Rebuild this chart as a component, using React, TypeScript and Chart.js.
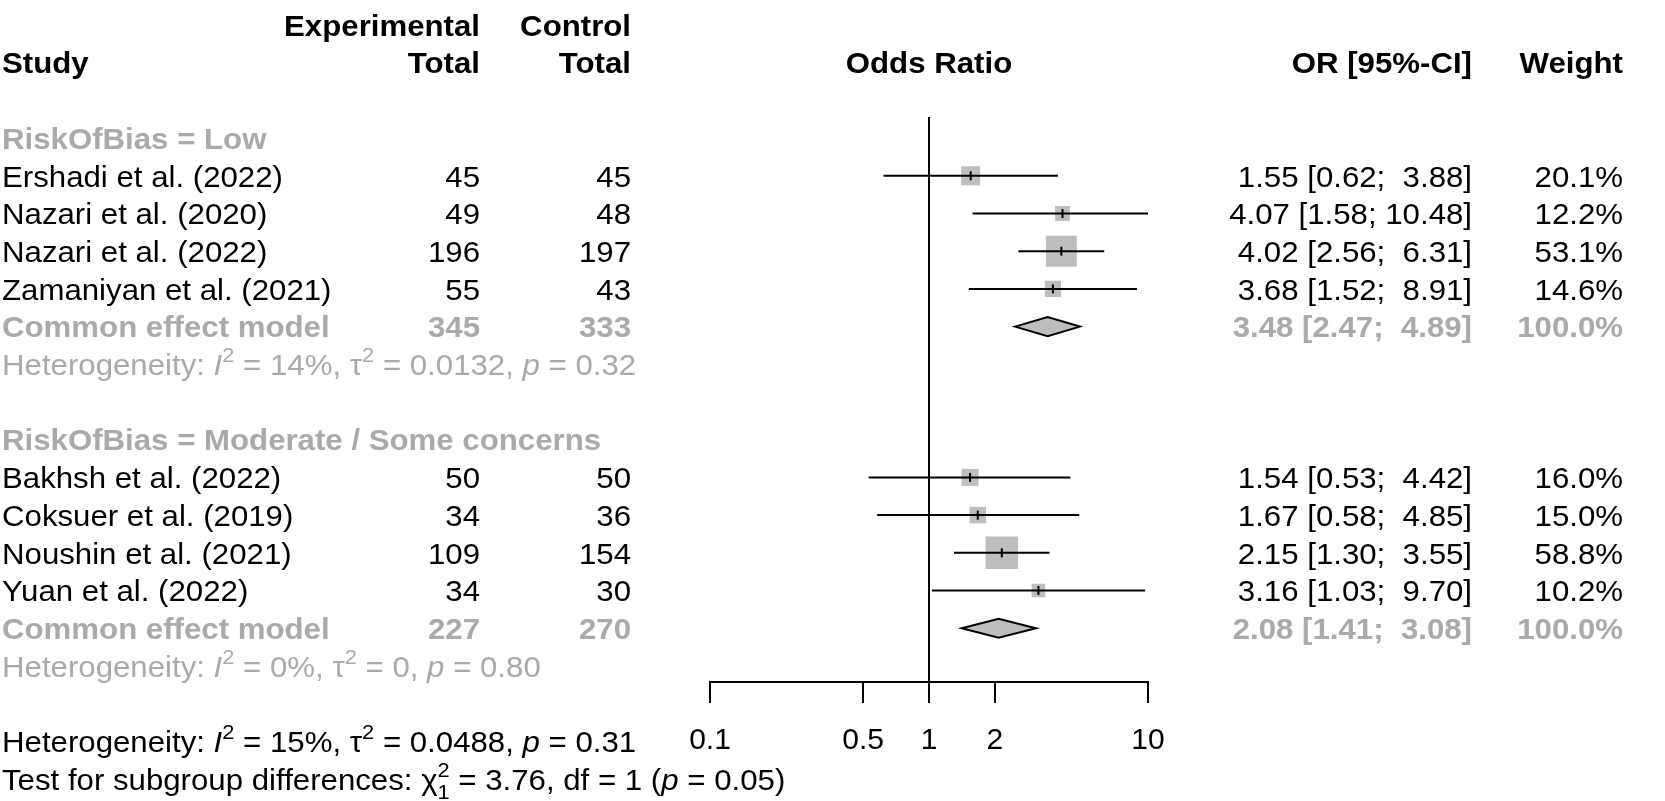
import React, { useEffect, useRef } from 'react';
import { Chart, registerables } from 'chart.js';

Chart.register(...registerables);

// ---------------- data ----------------
const STUDIES = [
  'Ershadi et al. (2022)',
  'Nazari et al. (2020)',
  'Nazari et al. (2022)',
  'Zamaniyan et al. (2021)',
  'Bakhsh et al. (2022)',
  'Coksuer et al. (2019)',
  'Noushin et al. (2021)',
  'Yuan et al. (2022)',
];
const STUDY_GROUP = [0, 0, 0, 0, 1, 1, 1, 1];
const EXP_TOTAL = [45, 49, 196, 55, 50, 34, 109, 34];
const CTRL_TOTAL = [45, 48, 197, 43, 50, 36, 154, 30];
const STUDY_OR = [1.55, 4.07, 4.02, 3.68, 1.54, 1.67, 2.15, 3.16];
const STUDY_LOWER = [0.62, 1.58, 2.56, 1.52, 0.53, 0.58, 1.3, 1.03];
const STUDY_UPPER = [3.88, 10.48, 6.31, 8.91, 4.42, 4.85, 3.55, 9.7];
const STUDY_WEIGHT = [20.1, 12.2, 53.1, 14.6, 16.0, 15.0, 58.8, 10.2];

const SUBGROUPS = ['RiskOfBias = Low', 'RiskOfBias = Moderate / Some concerns'];
const POOLED_LABEL = 'Common effect model';
const POOLED_EXP = [345, 227];
const POOLED_CTRL = [333, 270];
const POOLED_OR = [3.48, 2.08];
const POOLED_LOWER = [2.47, 1.41];
const POOLED_UPPER = [4.89, 3.08];
const POOLED_WEIGHT = [100.0, 100.0];

const HET_I2 = ['14%', '0%'];
const HET_TAU2 = ['0.0132', '0'];
const HET_P = ['0.32', '0.80'];
const OVERALL_HET = ['15%', '0.0488', '0.31']; // I2, tau2, p
const SUBGROUP_TEST = ['3.76', '1', '1', '0.05']; // chi2, chi df (subscript), df, p

const X_TICKS = [0.1, 0.5, 1, 2, 10];
const X_TICK_LABELS = ['0.1', '0.5', '1', '2', '10'];

const HEAD_STUDY = 'Study';
const HEAD_EXP = ['Experimental', 'Total'];
const HEAD_CTRL = ['Control', 'Total'];
const HEAD_PLOT = 'Odds Ratio';
const HEAD_OR = 'OR [95%-CI]';
const HEAD_WEIGHT = 'Weight';

// ---------------- row layout (row indices) ----------------
const GROUP_ROW: number[] = [];
const POOLED_ROW: number[] = [];
const HET_ROW: number[] = [];
const STUDY_ROW: number[] = [];
(() => {
  let r = 3;
  SUBGROUPS.forEach((_, g) => {
    GROUP_ROW[g] = r++;
    STUDIES.forEach((__, i) => {
      if (STUDY_GROUP[i] === g) STUDY_ROW[i] = r++;
    });
    POOLED_ROW[g] = r++;
    HET_ROW[g] = r++;
    r++;
  });
})();
const OVERALL_ROW = HET_ROW[HET_ROW.length - 1] + 2;
const TEST_ROW = OVERALL_ROW + 1;
const AXIS_ROW = HET_ROW[HET_ROW.length - 1] + 0.43;
const NULL_TOP_ROW = GROUP_ROW[0] - 0.56;

// ---------------- style ----------------
const W = 1665;
const H = 801;
const FAMILY = '"Liberation Sans", Arial, Helvetica, sans-serif';
const FS = 30;
const SX = 1.04;
const BASE_OFF = 0.358 * FS;
const GREY_TEXT = '#AAAAAA';
const GREY_FILL = '#BEBEBE';
const ROW_PX = 37.7;
const ROW0_PX = 25;
const Y_MIN = -ROW0_PX / ROW_PX;
const Y_MAX = Y_MIN + H / ROW_PX;
const PLOT_LEFT = 710;
const PLOT_RIGHT = 1148;
const STUDY_X = 2;
const EXP_X = 480;
const CTRL_X = 631;
const OR_X = 1472;
const WEIGHT_X = 1623;
const SQUARE_K = 4.25;
const DIAMOND_H = 9.5;

const fmt2 = (v: number) => v.toFixed(2);
const UPPER_W = Math.max(...STUDY_UPPER.map((v) => fmt2(v).length), ...POOLED_UPPER.map((v) => fmt2(v).length));
const LOWER_W = Math.max(...STUDY_LOWER.map((v) => fmt2(v).length), ...POOLED_LOWER.map((v) => fmt2(v).length));
const ciText = (o: number, l: number, u: number) =>
  `${fmt2(o)} [${fmt2(l).padStart(LOWER_W, ' ')}; ${fmt2(u).padStart(UPPER_W, ' ')}]`;

type Run = { t: string; it?: boolean; sup?: boolean; sub?: boolean; keep?: boolean };

function drawText(
  ctx: CanvasRenderingContext2D,
  s: string,
  x: number,
  y: number,
  align: CanvasTextAlign,
  bold: boolean,
  color: string
) {
  ctx.save();
  ctx.font = `${bold ? 'bold' : 'normal'} ${FS}px ${FAMILY}`;
  ctx.fillStyle = color;
  ctx.textAlign = align;
  ctx.textBaseline = 'alphabetic';
  ctx.translate(x, y + BASE_OFF);
  ctx.scale(SX, 1);
  ctx.fillText(s, 0, 0);
  ctx.restore();
}

function drawRich(ctx: CanvasRenderingContext2D, runs: Run[], x: number, y: number, color: string) {
  ctx.save();
  ctx.translate(x, y + BASE_OFF);
  ctx.scale(SX, 1);
  ctx.fillStyle = color;
  ctx.textAlign = 'left';
  ctx.textBaseline = 'alphabetic';
  let cx = 0;
  for (const r of runs) {
    const size = r.sup || r.sub ? FS * 0.7 : FS;
    ctx.font = `${r.it ? 'italic ' : ''}normal ${size}px ${FAMILY}`;
    const dy = r.sup ? -0.42 * FS : r.sub ? 0.3 * FS : 0;
    ctx.fillText(r.t, cx, dy);
    if (!r.keep) cx += ctx.measureText(r.t).width;
  }
  ctx.restore();
}

const hetRuns = (i2: string, tau2: string, p: string): Run[] => [
  { t: 'Heterogeneity: ' },
  { t: 'I', it: true },
  { t: '2', sup: true },
  { t: ` = ${i2}, ` },
  { t: 'τ' },
  { t: '2', sup: true },
  { t: ` = ${tau2}, ` },
  { t: 'p', it: true },
  { t: ` = ${p}` },
];

const textPlugin = {
  id: 'forestText',
  afterDraw(chart: any) {
    const ctx: CanvasRenderingContext2D = chart.ctx;
    const ys = chart.scales.y;
    const xs = chart.scales.x;
    const py = (r: number) => ys.getPixelForValue(r);

    drawText(ctx, HEAD_EXP[0], EXP_X, py(0), 'right', true, '#000');
    drawText(ctx, HEAD_CTRL[0], CTRL_X, py(0), 'right', true, '#000');
    drawText(ctx, HEAD_STUDY, STUDY_X, py(1), 'left', true, '#000');
    drawText(ctx, HEAD_EXP[1], EXP_X, py(1), 'right', true, '#000');
    drawText(ctx, HEAD_CTRL[1], CTRL_X, py(1), 'right', true, '#000');
    drawText(ctx, HEAD_PLOT, xs.getPixelForValue(1), py(1), 'center', true, '#000');
    drawText(ctx, HEAD_OR, OR_X, py(1), 'right', true, '#000');
    drawText(ctx, HEAD_WEIGHT, WEIGHT_X, py(1), 'right', true, '#000');

    SUBGROUPS.forEach((name, g) => {
      drawText(ctx, name, STUDY_X, py(GROUP_ROW[g]), 'left', true, GREY_TEXT);
      const pr = py(POOLED_ROW[g]);
      drawText(ctx, POOLED_LABEL, STUDY_X, pr, 'left', true, GREY_TEXT);
      drawText(ctx, String(POOLED_EXP[g]), EXP_X, pr, 'right', true, GREY_TEXT);
      drawText(ctx, String(POOLED_CTRL[g]), CTRL_X, pr, 'right', true, GREY_TEXT);
      drawText(ctx, ciText(POOLED_OR[g], POOLED_LOWER[g], POOLED_UPPER[g]), OR_X, pr, 'right', true, GREY_TEXT);
      drawText(ctx, `${POOLED_WEIGHT[g].toFixed(1)}%`, WEIGHT_X, pr, 'right', true, GREY_TEXT);
      drawRich(ctx, hetRuns(HET_I2[g], HET_TAU2[g], HET_P[g]), STUDY_X, py(HET_ROW[g]), GREY_TEXT);
    });

    STUDIES.forEach((name, i) => {
      const r = py(STUDY_ROW[i]);
      drawText(ctx, name, STUDY_X, r, 'left', false, '#000');
      drawText(ctx, String(EXP_TOTAL[i]), EXP_X, r, 'right', false, '#000');
      drawText(ctx, String(CTRL_TOTAL[i]), CTRL_X, r, 'right', false, '#000');
      drawText(ctx, ciText(STUDY_OR[i], STUDY_LOWER[i], STUDY_UPPER[i]), OR_X, r, 'right', false, '#000');
      drawText(ctx, `${STUDY_WEIGHT[i].toFixed(1)}%`, WEIGHT_X, r, 'right', false, '#000');
    });

    drawRich(ctx, hetRuns(OVERALL_HET[0], OVERALL_HET[1], OVERALL_HET[2]), STUDY_X, py(OVERALL_ROW), '#000');
    drawRich(
      ctx,
      [
        { t: 'Test for subgroup differences: ' },
        { t: 'χ' },
        { t: '2', sup: true, keep: true },
        { t: SUBGROUP_TEST[1], sub: true },
        { t: ` = ${SUBGROUP_TEST[0]}, df = ${SUBGROUP_TEST[2]} (` },
        { t: 'p', it: true },
        { t: ` = ${SUBGROUP_TEST[3]})` },
      ],
      STUDY_X,
      py(TEST_ROW),
      '#000'
    );
  },
};

const diamondPlugin = {
  id: 'forestDiamonds',
  afterDatasetsDraw(chart: any) {
    const ctx: CanvasRenderingContext2D = chart.ctx;
    const xs = chart.scales.x;
    const ys = chart.scales.y;
    POOLED_OR.forEach((o, g) => {
      const yc = ys.getPixelForValue(POOLED_ROW[g]);
      const xl = xs.getPixelForValue(POOLED_LOWER[g]);
      const xm = xs.getPixelForValue(o);
      const xr = xs.getPixelForValue(POOLED_UPPER[g]);
      ctx.save();
      ctx.beginPath();
      ctx.moveTo(xl, yc);
      ctx.lineTo(xm, yc - DIAMOND_H);
      ctx.lineTo(xr, yc);
      ctx.lineTo(xm, yc + DIAMOND_H);
      ctx.closePath();
      ctx.fillStyle = GREY_FILL;
      ctx.fill();
      ctx.lineWidth = 2;
      ctx.strokeStyle = '#000';
      ctx.lineJoin = 'miter';
      ctx.stroke();
      ctx.restore();
    });
  },
};

export default function App() {
  const ref = useRef<HTMLCanvasElement | null>(null);

  useEffect(() => {
    if (!ref.current) return;
    const points = STUDIES.map((_, i) => ({ x: STUDY_OR[i], y: STUDY_ROW[i] }));
    const ciSets = STUDIES.map((name, i) => ({
      type: 'line' as const,
      label: `ci-${name}`,
      data: [
        { x: STUDY_LOWER[i], y: STUDY_ROW[i] },
        { x: STUDY_UPPER[i], y: STUDY_ROW[i] },
      ],
      borderColor: '#000',
      borderWidth: 2,
      pointRadius: 0,
      showLine: true,
      order: 2,
    }));
    const chart = new Chart(ref.current, {
      type: 'scatter',
      data: {
        datasets: [
          ...ciSets,
          {
            type: 'scatter' as const,
            label: 'squares',
            data: points,
            pointStyle: 'rect',
            pointRadius: STUDY_WEIGHT.map((w) => (SQUARE_K * Math.sqrt(w)) / Math.SQRT2),
            backgroundColor: GREY_FILL,
            borderWidth: 0,
            order: 3,
          },
          {
            type: 'scatter' as const,
            label: 'estimates',
            data: points,
            pointStyle: 'line',
            rotation: 90,
            pointRadius: 4.5,
            borderColor: '#000',
            borderWidth: 2,
            order: 1,
          },
          {
            type: 'line' as const,
            label: 'null',
            data: [
              { x: 1, y: NULL_TOP_ROW },
              { x: 1, y: AXIS_ROW },
            ],
            borderColor: '#000',
            borderWidth: 2,
            pointRadius: 0,
            showLine: true,
            order: 4,
          },
        ] as any,
      },
      options: {
        responsive: false,
        animation: false,
        devicePixelRatio: 1,
        events: [],
        layout: { autoPadding: false, padding: { left: PLOT_LEFT, right: W - PLOT_RIGHT, top: 0, bottom: 0 } },
        plugins: { legend: { display: false }, tooltip: { enabled: false }, title: { display: false } },
        scales: {
          x: {
            type: 'logarithmic',
            min: X_TICKS[0],
            max: X_TICKS[X_TICKS.length - 1],
            position: { y: AXIS_ROW } as any,
            afterBuildTicks: (scale: any) => {
              scale.ticks = X_TICKS.map((v) => ({ value: v }));
            },
            ticks: {
              callback: (_v: any, i: number) => X_TICK_LABELS[i],
              font: { family: FAMILY, size: FS },
              color: '#000',
              padding: 21,
              autoSkip: false,
              maxRotation: 0,
              minRotation: 0,
            },
            grid: { drawOnChartArea: false, drawTicks: true, tickLength: 20, color: '#000', lineWidth: 2 },
            border: { display: true, color: '#000', width: 2 },
          },
          y: {
            type: 'linear',
            min: Y_MIN,
            max: Y_MAX,
            reverse: true,
            display: false,
          },
        },
      } as any,
      plugins: [diamondPlugin, textPlugin],
    });
    return () => chart.destroy();
  }, []);

  return (
    <div style={{ position: 'fixed', left: 0, top: 0, width: W, height: H, background: '#fff' }}>
      <canvas ref={ref} width={W} height={H} style={{ display: 'block', width: W, height: H }} />
    </div>
  );
}
